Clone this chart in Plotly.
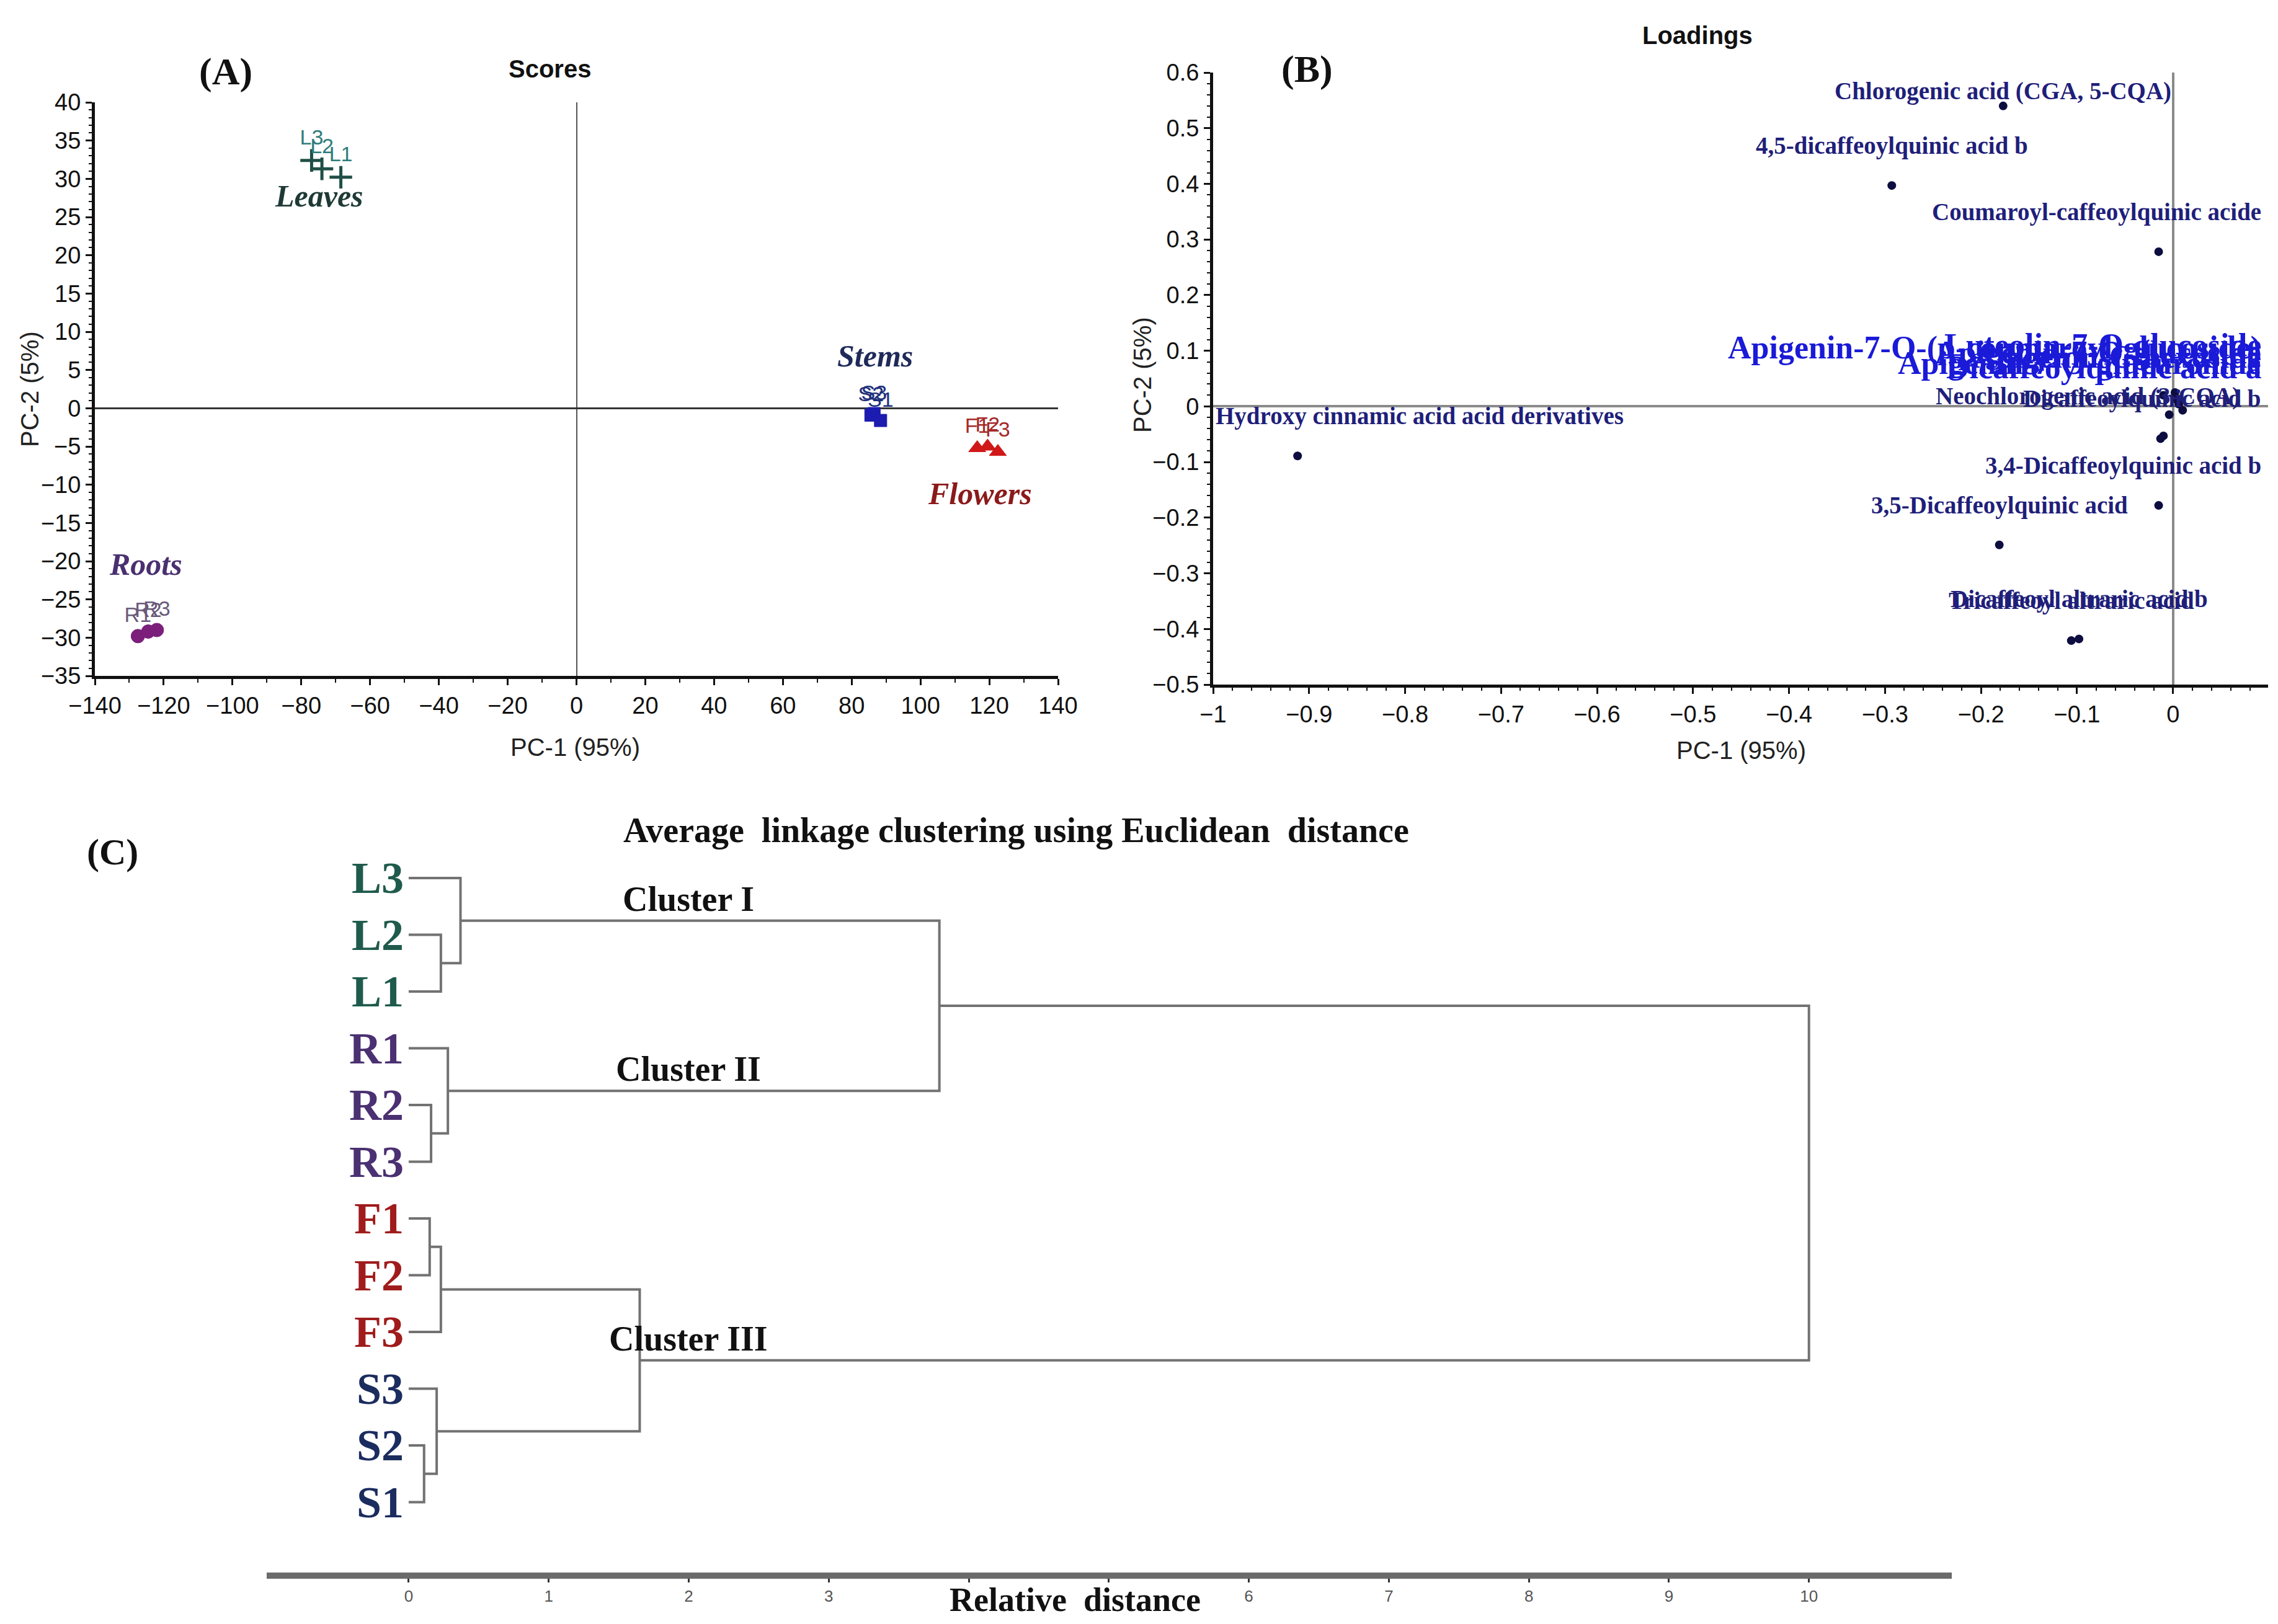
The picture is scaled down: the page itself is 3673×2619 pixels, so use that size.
import plotly.graph_objects as go

W, H = 3673, 2619

# ---------------- Panel A : PCA scores ----------------
leaves_x = [-77.0, -74.0, -68.5]
leaves_y = [32.4, 31.3, 30.2]
leaves_lab = ["L3", "L2", "L1"]
stems_x = [86.5, 85.6, 88.4]
stems_y = [-0.7, -0.9, -1.6]
stems_lab = ["S3", "S2", "S1"]
flowers_x = [116.5, 119.5, 122.5]
flowers_y = [-5.2, -5.0, -5.7]
flowers_lab = ["F1", "F2", "F3"]
roots_x = [-127.5, -124.5, -122.0]
roots_y = [-29.8, -29.2, -29.0]
roots_lab = ["R1", "R2", "R3"]
group_names = ["Leaves", "Stems", "Flowers", "Roots"]

# ---------------- Panel B : PCA loadings ----------------
comp_names = [
    "Chlorogenic acid (CGA, 5-CQA)",
    "4,5-dicaffeoylquinic acid b",
    "Coumaroyl-caffeoylquinic acide",
    "Hydroxy cinnamic acid acid derivatives",
    "Apigenin-7-O-(p-coumaroyl-glucoside)",
    "Apigenin-7-O-glucuronide",
    "Apigenin-7-O-glucoside",
    "Luteolin-7-O-glucoside",
    "Apigenin-C-hexoside",
    "Dicaffeoylquinic acid a",
    "Dicaffeoylquinic acid b",
    "Neochlorogenic acid (3-CQA)",
    "3,4-Dicaffeoylquinic acid b",
    "3,5-Dicaffeoylquinic acid",
    "Tricaffeoyl altraric acid",
    "Dicaffeoyl altraric acid b",
]
comp_x = [-0.177, -0.293, -0.015, -0.912, -0.010, 0.010, 0.004, 0.002, 0.006, -0.004,
          -0.013, -0.010, -0.015, -0.181, -0.106, -0.098]
comp_y = [0.540, 0.397, 0.278, -0.089, 0.020, -0.007, 0.012, 0.025, 0.004, -0.015,
          -0.058, -0.053, -0.178, -0.249, -0.421, -0.418]

# ---------------- Panel C : dendrogram ----------------
leaf_names = ["L3", "L2", "L1", "R1", "R2", "R3", "F1", "F2", "F3", "S3", "S2", "S1"]
# (child a, child b, linkage distance); "mK" = K-th merge
merges = [("L2", "L1", 0.23), ("L3", "m0", 0.37), ("R2", "R3", 0.16), ("R1", "m2", 0.28),
          ("F1", "F2", 0.15), ("m4", "F3", 0.23), ("S2", "S1", 0.11), ("S3", "m6", 0.20),
          ("m1", "m3", 3.79), ("m5", "m7", 1.65), ("m8", "m9", 10.0)]
cluster_labels = {"m1": "Cluster I", "m3": "Cluster II", "m9": "Cluster III"}
dist_ticks = list(range(0, 11))
dist_ticktext = ["0", "1", "2", "3", "", "", "6", "7", "8", "9", "10"]  # 4,5 hidden under title

# ---------------- styles ----------------
SANS = "Liberation Sans Narrow, Arial Narrow, Liberation Sans, Arial, sans-serif"
SERIF = "Liberation Serif, Times New Roman, serif"

def px2x(p):
    return p / W

def px2y(p):
    return 1 - p / H

domA_x = [px2x(145), px2x(1698)]
domA_y = [px2y(1082), px2y(157)]
domB_x = [px2x(1948), px2x(3649)]
domB_y = [px2y(1096), px2y(109)]
domC_x = [px2x(422), px2x(3139)]
domC_y = [px2y(2528), px2y(1300)]
# leaf rows: first row at 1408 px, spacing 91.5 px
C_row0, C_step = 1408.0, 91.5
C_yrange = [(2528 - C_row0) / C_step, (1300 - C_row0) / C_step]

fig = go.Figure()

groups = [
    (leaves_x, leaves_y, leaves_lab, "cross-thin", "#1f4f46", "#2e7d7a", 26),
    (stems_x, stems_y, stems_lab, "square", "#1c1cb0", "#1e2f7a", 20),
    (flowers_x, flowers_y, flowers_lab, "triangle-up", "#d01818", "#a52a2a", 24),
    (roots_x, roots_y, roots_lab, "circle", "#7b1f7b", "#6a5a7a", 22),
]
for gx, gy, glab, sym, mcol, tcol, msz in groups:
    fig.add_trace(go.Scatter(
        x=gx, y=gy, text=glab, mode="markers+text", textposition="top center",
        textfont=dict(family=SANS, size=34, color=tcol),
        marker=dict(symbol=sym, size=msz, color=mcol,
                    line=dict(width=5 if sym == "cross-thin" else 1, color=mcol)),
        xaxis="x", yaxis="y", showlegend=False, hoverinfo="skip"))

# group labels placed relative to group centroids
grp_style = {
    "Leaves": (leaves_x, leaves_y, "#1f3a36", -9, -44),
    "Stems": (stems_x, stems_y, "#1f2a5a", 0, 97),
    "Flowers": (flowers_x, flowers_y, "#8b1a1a", -12, -72),
    "Roots": (roots_x, roots_y, "#4a3070", -3, 110),
}
annotations = []
for g in group_names:
    gx, gy, col, dx, dy = grp_style[g]
    annotations.append(dict(
        x=sum(gx) / len(gx), y=sum(gy) / len(gy), xref="x", yref="y",
        text="<b><i>%s</i></b>" % g, showarrow=False, xshift=dx, yshift=dy,
        font=dict(family=SERIF, size=50, color=col)))

# ---- Panel B points
fig.add_trace(go.Scatter(
    x=comp_x, y=comp_y, mode="markers",
    marker=dict(size=14, color="#0d0d40"),
    xaxis="x2", yaxis="y2", showlegend=False, hoverinfo="skip"))

big_labels = {"Apigenin-7-O-(p-coumaroyl-glucoside)", "Apigenin-7-O-glucuronide",
              "Apigenin-7-O-glucoside", "Luteolin-7-O-glucoside", "Apigenin-C-hexoside",
              "Dicaffeoylquinic acid a"}
align_right = {"Coumaroyl-caffeoylquinic acide", "3,4-Dicaffeoylquinic acid b",
               "Dicaffeoylquinic acid b"} | big_labels
align_right_inset = {"Neochlorogenic acid (3-CQA)"}
align_left = {"Hydroxy cinnamic acid acid derivatives"}
align_top = {"Chlorogenic acid (CGA, 5-CQA)"}

for name, cx, cy in zip(comp_names, comp_x, comp_y):
    big = name in big_labels
    font = dict(family=SERIF, size=52 if big else 39, color="#1a1ad8" if big else "#1f1f7a")
    a = dict(text="<b>%s</b>" % name, showarrow=False, font=font,
             yref="y2", y=cy, yshift=(76 if big else 64), yanchor="middle",
             xref="x2", x=cx, xanchor="center")
    if name in align_right:
        a.update(xref="x2 domain", x=0.995, xanchor="right")
    if name in align_right_inset:
        a.update(xref="x2 domain", x=0.975, xanchor="right")
    if name in align_left:
        a.update(xref="x2 domain", x=0.001, xanchor="left")
    if name in align_top:
        a.update(yref="y2 domain", y=1.0, yanchor="top", yshift=-6)
    annotations.append(a)

# ---- Panel C dendrogram segments computed from the linkage
pos = {n: (0.0, float(i)) for i, n in enumerate(leaf_names)}
seg_x, seg_y = [], []
for k, (a, b, h) in enumerate(merges):
    ax_, ay_ = pos[a]
    bx_, by_ = pos[b]
    seg_x += [ax_, h, h, bx_, None]
    seg_y += [ay_, ay_, by_, by_, None]
    pos["m%d" % k] = (h, (ay_ + by_) / 2)

fig.add_trace(go.Scatter(
    x=seg_x, y=seg_y, mode="lines", line=dict(color="#727272", width=4),
    xaxis="x3", yaxis="y3", showlegend=False, hoverinfo="skip"))

leaf_cols = {"L": "#1f5b4c", "R": "#4b3072", "F": "#a01c1c", "S": "#1b2c5e"}
for i, n in enumerate(leaf_names):
    annotations.append(dict(
        x=0, y=i, xref="x3", yref="y3", text="<b>%s</b>" % n, showarrow=False,
        xanchor="right", yanchor="middle", xshift=-6,
        font=dict(family=SERIF, size=72, color=leaf_cols[n[0]])))

for node, lab in cluster_labels.items():
    annotations.append(dict(
        x=2.0, y=pos[node][1], xref="x3", yref="y3", text="<b>%s</b>" % lab,
        showarrow=False, xanchor="center", yanchor="bottom", yshift=2,
        font=dict(family=SERIF, size=56, color="#111111")))

# ---- titles / panel letters
def ann_paper(px, py, text, font, **kw):
    d = dict(x=px2x(px), y=px2y(py), xref="paper", yref="paper", text=text,
             showarrow=False, xanchor="center", yanchor="middle", font=font)
    d.update(kw)
    return d

annotations += [
    ann_paper(356, 108, "<b>(A)</b>", dict(family=SERIF, size=62, color="#111")),
    ann_paper(878, 103, "<b>Scores</b>", dict(family=SANS, size=40, color="#111")),
    ann_paper(920, 1197, "PC-1 (95%)", dict(family=SANS, size=40, color="#222")),
    ann_paper(40, 620, "PC-2 (5%)", dict(family=SANS, size=40, color="#222"), textangle=-90),
    ann_paper(2099, 103, "<b>(B)</b>", dict(family=SERIF, size=62, color="#111")),
    ann_paper(2729, 49, "<b>Loadings</b>", dict(family=SANS, size=40, color="#111")),
    ann_paper(2799, 1202, "PC-1 (95%)", dict(family=SANS, size=40, color="#222")),
    ann_paper(1834, 597, "PC-2 (5%)", dict(family=SANS, size=40, color="#222"), textangle=-90),
    ann_paper(173, 1366, "<b>(C)</b>", dict(family=SERIF, size=60, color="#111")),
    ann_paper(1630, 1331, "<b>Average\u00a0\u00a0linkage clustering using Euclidean\u00a0\u00a0distance</b>",
              dict(family=SERIF, size=56, color="#111")),
    ann_paper(1725, 2541, "<b>Relative\u00a0\u00a0distance</b>",
              dict(family=SERIF, size=54, color="#111"),
              yanchor="top", borderpad=0),
]

tickfont = dict(family=SANS, size=38, color="#111")
common = dict(showgrid=False, showline=True, linecolor="#111", linewidth=5,
              ticks="outside", ticklen=10, tickwidth=3, tickcolor="#111",
              tickfont=tickfont, mirror=False, automargin=False)

fig.update_layout(
    width=W, height=H, margin=dict(l=0, r=0, t=0, b=0, pad=0, autoexpand=False),
    paper_bgcolor="white", plot_bgcolor="white",
    xaxis=dict(domain=domA_x, anchor="y", range=[-140, 140], dtick=20, tick0=0,
               zeroline=True, zerolinecolor="#555", zerolinewidth=2,
               minor=dict(dtick=10, ticks="outside", ticklen=6, tickcolor="#111", tickwidth=2),
               **common),
    yaxis=dict(domain=domA_y, anchor="x", range=[-35, 40], dtick=5, tick0=0,
               zeroline=True, zerolinecolor="#333", zerolinewidth=3,
               minor=dict(dtick=1, ticks="outside", ticklen=5, tickcolor="#111", tickwidth=2),
               **common),
    xaxis2=dict(domain=domB_x, anchor="y2", range=[-1.0, 0.099], dtick=0.1, tick0=0,
                zeroline=True, zerolinecolor="#8a8a8a", zerolinewidth=4,
                minor=dict(dtick=0.02, ticks="outside", ticklen=5, tickcolor="#111", tickwidth=2),
                **common),
    yaxis2=dict(domain=domB_y, anchor="x2", range=[-0.5, 0.6], dtick=0.1, tick0=0,
                zeroline=True, zerolinecolor="#8a8a8a", zerolinewidth=4,
                minor=dict(dtick=0.02, ticks="outside", ticklen=5, tickcolor="#111", tickwidth=2),
                **common),
    xaxis3=dict(domain=domC_x, anchor="y3", range=[-1.014, 11.02],
                tickvals=dist_ticks, ticktext=dist_ticktext,
                showgrid=False, zeroline=False, showline=True, linecolor="#6b6b6b",
                linewidth=10, ticks="outside", ticklen=6, tickwidth=3, tickcolor="#333",
                automargin=False,
                tickfont=dict(family=SANS, size=26, color="#555")),
    yaxis3=dict(domain=domC_y, anchor="x3", range=C_yrange, visible=False,
                automargin=False),
    annotations=annotations,
)

fig.write_html("out.html")
